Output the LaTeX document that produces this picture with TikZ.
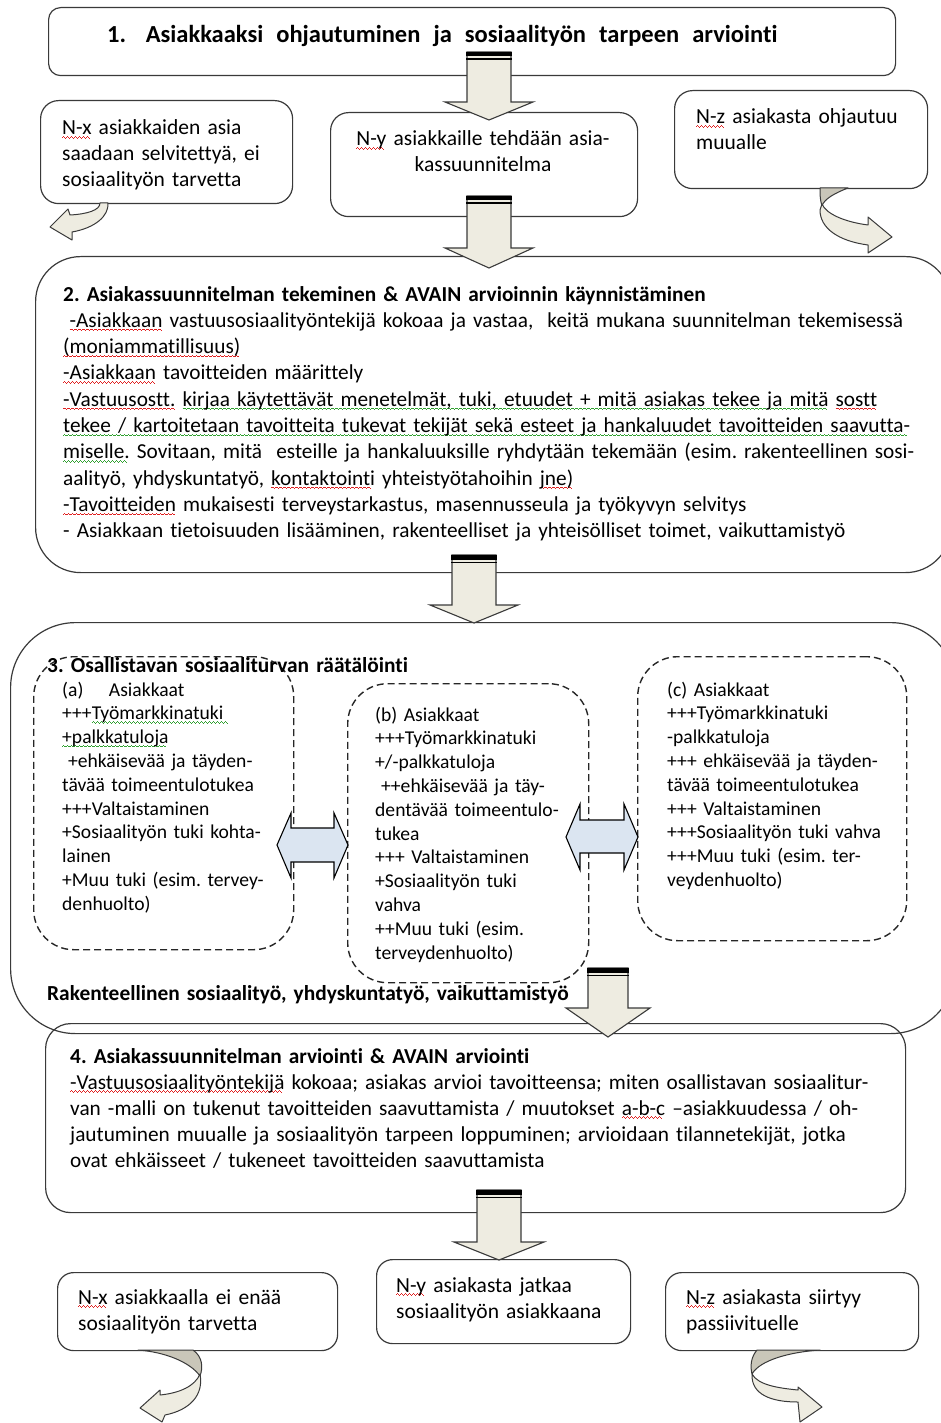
\documentclass[tikz,border=0pt]{standalone}
\usepackage{fontspec}
\setmainfont{Carlito}[Ligatures=NoCommon]
\frenchspacing
\definecolor{arrowfill}{HTML}{EEECE1}
\definecolor{arrowback}{HTML}{C9C6B9}
\definecolor{dblfill}{HTML}{DBE5F1}
\definecolor{edge}{HTML}{3A3A3A}
\definecolor{spellred}{HTML}{E02020}
\definecolor{spellgreen}{HTML}{30A030}
\newcommand{\wavebit}{\hbox{\rule[-3pt]{1pt}{0.9pt}\rule[-2.3pt]{1pt}{0.9pt}\rule[-3pt]{1pt}{0.9pt}\rule[-3.7pt]{1pt}{0.9pt}}}
\newcommand{\spwave}[2]{\leavevmode\setbox0\hbox{#2}\rlap{\textcolor{#1}{\leaders\wavebit\hskip\wd0\relax}}\box0\relax}
\newcommand{\rw}[1]{\spwave{spellred}{#1}}
\newcommand{\gw}[1]{\spwave{spellgreen}{#1}}
\newcommand{\fntTitle}{\fontsize{24.5}{30}\selectfont\bfseries}
\newcommand{\fntSmall}{\fontsize{21.5}{26}\selectfont}
\newcommand{\fntTwo}{\fontsize{21.3}{26.3}\selectfont}
\newcommand{\fntThree}{\fontsize{19.6}{23.8}\selectfont}
\newcommand{\fntThreeB}{\fontsize{21.4}{26}\selectfont\bfseries}
\newcommand{\fntFour}{\fontsize{21.3}{26}\selectfont}
\newcommand{\blkarrow}[6]{%
  \draw[blk] (#1-#5,#2) -- (#1+#5,#2) -- (#1+#5,#3) -- (#1+#6,#3) -- (#1,#4) -- (#1-#6,#3) -- (#1-#5,#3) -- cycle;
  \fill[black] (#1-#5-1,#2) rectangle (#1+#5+1,#2+4.5);
  \fill[black] (#1-#5-1,#2+6.5) rectangle (#1+#5+1,#2+8);
}
\tikzset{
  box/.style={draw=edge, line width=1.2pt, inner sep=0pt, anchor=north west},
  dashbox/.style={draw=black!85, line width=1.4pt, dash pattern=on 7pt off 4pt, inner sep=0pt, anchor=north west, rounded corners=40pt},
  txt/.style={anchor=base west, inner sep=0pt, align=left, text width=#1},
  blk/.style={fill=arrowfill, draw=edge, line width=1.1pt, line join=miter},
  dbl/.style={fill=dblfill, draw=black, line width=1.1pt, line join=miter},
  curvfront/.style={fill=arrowfill, draw=edge, line width=1pt, line join=round},
  curvback/.style={fill=arrowback, draw=edge, line width=1pt, line join=round}
}
\begin{document}
\begin{tikzpicture}[x=1pt,y=-1pt]
\useasboundingbox (0,0) rectangle (941,1423);
\clip (0,0) rectangle (941,1423);
% boxes
\node[box, rounded corners=12pt, minimum width=847pt, minimum height=68pt] (b1) at (48,7) {};
\node[box, rounded corners=18pt, minimum width=252pt, minimum height=103pt] (nx1) at (40,100) {};
\node[box, rounded corners=18pt, minimum width=307pt, minimum height=104pt] (ny1) at (330,112) {};
\node[box, rounded corners=18pt, minimum width=253pt, minimum height=98pt] (nz1) at (674,90) {};
\node[box, rounded corners=45pt, minimum width=915pt, minimum height=316pt] (b2) at (35,256) {};
\node[box, rounded corners=65pt, minimum width=945pt, minimum height=411pt] (b3) at (10,622) {};
\node[dashbox, minimum width=260pt, minimum height=293pt] (da) at (33,656) {};
\node[dashbox, minimum width=241pt, minimum height=299pt] (db) at (347,683) {};
\node[dashbox, minimum width=269pt, minimum height=284pt] (dc) at (637,656) {};
\node[box, rounded corners=25pt, minimum width=860pt, minimum height=189pt] (b4) at (45,1023) {};
\node[box, rounded corners=16pt, minimum width=280pt, minimum height=78pt] (nx2) at (57,1272) {};
\node[box, rounded corners=16pt, minimum width=254pt, minimum height=84pt] (ny2) at (376,1259) {};
\node[box, rounded corners=16pt, minimum width=253pt, minimum height=78pt] (nz2) at (665,1272) {};
% texts
\node[txt=800pt, font=\fntTitle] (t1) at (107,43) {1.\hspace{0.8em}Asiakkaaksi\hspace{0.2em} ohjautuminen\hspace{0.2em} ja\hspace{0.2em} sosiaalityön\hspace{0.2em} tarpeen\hspace{0.2em} arviointi};
\node[txt=240pt, font=\fntSmall] (tnx1) at (62,135) {\rw{N-x} asiakkaiden asia\\saadaan selvitettyä, ei\\sosiaalityön tarvetta};
\node[txt=300pt, font=\fntSmall, align=center, anchor=base] (tny1) at (483,146) {\rw{N-y} asiakkaille tehdään asia-\\kassuunnitelma};
\node[txt=240pt, font=\fntSmall] (tnz1) at (696,124) {\rw{N-z} asiakasta ohjautuu\\muualle};
\node[txt=880pt, font=\fntTwo] (t2) at (63,301) {\textbf{2. Asiakassuunnitelman tekeminen \& AVAIN arvioinnin käynnistäminen}\\
\hspace{0.3em}\rw{-Asiakkaan} vastuusosiaalityöntekijä kokoaa ja vastaa,\ \ keitä mukana suunnitelman tekemisessä\\
\rw{(moniammatillisuus)}\\
\rw{-Asiakkaan} tavoitteiden määrittely\\
\rw{-Vastuusostt.} \gw{kirjaa käytettävät menetelmät, tuki, etuudet + mitä asiakas tekee ja mitä} \rw{sostt}\\
\gw{tekee / kartoitetaan tavoitteita tukevat tekijät sekä esteet ja hankaluudet tavoitteiden saavutta-}\\
\gw{miselle.} Sovitaan, mitä\ \ esteille ja hankaluuksille ryhdytään tekemään (esim. rakenteellinen sosi-\\
aalityö, yhdyskuntatyö, \rw{kontaktointi} yhteistyötahoihin \rw{jne)}\\
\rw{-Tavoitteiden} mukaisesti terveystarkastus, masennusseula ja työkyvyn selvitys\\
- Asiakkaan tietoisuuden lisääminen, rakenteelliset ja yhteisölliset toimet, vaikuttamistyö};
\node[txt=600pt, font=\fntThreeB] (t3) at (47,672) {3. Osallistavan sosiaaliturvan räätälöinti};
\node[txt=230pt, font=\fntThree] (ta) at (62,696) {(a)\hspace{1.3em}Asiakkaat\\
+++\gw{Työmarkkinatuki }\\
\gw{+palkkatuloja}\\
\hspace{0.3em}+ehkäisevää ja täyden-\\
tävää toimeentulotukea\\
+++Valtaistaminen\\
+Sosiaalityön tuki kohta-\\
lainen\\
+Muu tuki (esim. tervey-\\
denhuolto)};
\node[txt=210pt, font=\fntThree] (tb) at (375,721) {(b) Asiakkaat\\
+++Työmarkkinatuki\\
+/-palkkatuloja\\
\hspace{0.3em}++ehkäisevää ja täy-\\
dentävää toimeentulo-\\
tukea\\
+++ Valtaistaminen\\
+Sosiaalityön tuki\\
vahva\\
++Muu tuki (esim.\\
terveydenhuolto)};
\node[txt=240pt, font=\fntThree] (tc) at (667,696) {(c) Asiakkaat\\
+++Työmarkkinatuki\\
-palkkatuloja\\
+++ ehkäisevää ja täyden-\\
tävää toimeentulotukea\\
+++ Valtaistaminen\\
+++Sosiaalityön tuki vahva\\
+++Muu tuki (esim. ter-\\
veydenhuolto)};
\node[txt=620pt, font=\fntThreeB] (trak) at (47,1000) {Rakenteellinen sosiaalityö, yhdyskuntatyö, vaikuttamistyö};
\node[txt=840pt, font=\fntFour] (t4) at (70,1063) {\textbf{4. Asiakassuunnitelman arviointi \& AVAIN arviointi}\\
\rw{-Vastuusosiaalityöntekijä} kokoaa; asiakas arvioi tavoitteensa; miten osallistavan sosiaalitur-\\
van -malli on tukenut tavoitteiden saavuttamista / muutokset \rw{a-b-c} –asiakkuudessa / oh-\\
jautuminen muualle ja sosiaalityön tarpeen loppuminen; arvioidaan tilannetekijät, jotka\\
ovat ehkäisseet / tukeneet tavoitteiden saavuttamista};
\node[txt=260pt, font=\fntSmall] (tnx2) at (78,1304) {\rw{N-x} asiakkaalla ei enää\\sosiaalityön tarvetta};
\node[txt=240pt, font=\fntSmall] (tny2) at (396,1292) {\rw{N-y} asiakasta jatkaa\\sosiaalityön asiakkaana};
\node[txt=240pt, font=\fntSmall] (tnz2) at (686,1304) {\rw{N-z} asiakasta siirtyy\\passiivituelle};
% block arrows
\blkarrow{489}{52}{102}{120}{22}{44}
\blkarrow{489}{196}{248}{268}{22}{44}
\blkarrow{474}{555}{605}{623}{22}{44}
\blkarrow{608}{968}{1008}{1037}{20}{42}
\blkarrow{499}{1190}{1242}{1260}{22}{45}
% double arrows
\draw[dbl] (277,845) -- (291,813) -- (291,828) -- (334,828) -- (334,813) -- (348,845) -- (334,878) -- (334,862) -- (291,862) -- (291,878) -- cycle;
\draw[dbl] (566,837) -- (580,804) -- (580,820) -- (624,820) -- (624,804) -- (638,837) -- (624,870) -- (624,853) -- (580,853) -- (580,870) -- cycle;
% curved arrows
\draw[curvfront] (100,203) .. controls (100,210) and (88,214) .. (70,215) -- (68,209) -- (50,227) -- (72,240) -- (72,232) .. controls (95,228) and (109,216) .. (108,203) -- cycle;
\draw[curvback] (820,188) -- (848,188) .. controls (835,193) and (824,199) .. (822,206) .. controls (820,200) and (820,194) .. (820,188) -- cycle;
\draw[curvfront] (822,204) .. controls (826,214) and (845,222) .. (868,225) -- (868,217) -- (892,237) -- (868,253) -- (868,245) .. controls (838,241) and (820,228) .. (820,210) -- cycle;
\draw[curvback] (138,1350) -- (193,1350) .. controls (203,1357) and (203,1368) .. (200,1376) .. controls (190,1362) and (165,1352) .. (138,1350) -- cycle;
\draw[curvfront] (200,1374) .. controls (204,1395) and (190,1410) .. (165,1415) -- (162,1422) -- (140,1408) -- (160,1390) -- (160,1395) .. controls (180,1393) and (195,1386) .. (200,1374) -- cycle;
\draw[curvback] (757,1350) -- (820,1350) .. controls (790,1352) and (760,1360) .. (752,1374) .. controls (750,1366) and (751,1357) .. (757,1350) -- cycle;
\draw[curvfront] (752,1374) .. controls (751,1395) and (772,1402) .. (798,1402) -- (800,1422) -- (822,1407) -- (798,1387) -- (798,1390) .. controls (778,1388) and (758,1385) .. (752,1374) -- cycle;
\end{tikzpicture}
\end{document}
